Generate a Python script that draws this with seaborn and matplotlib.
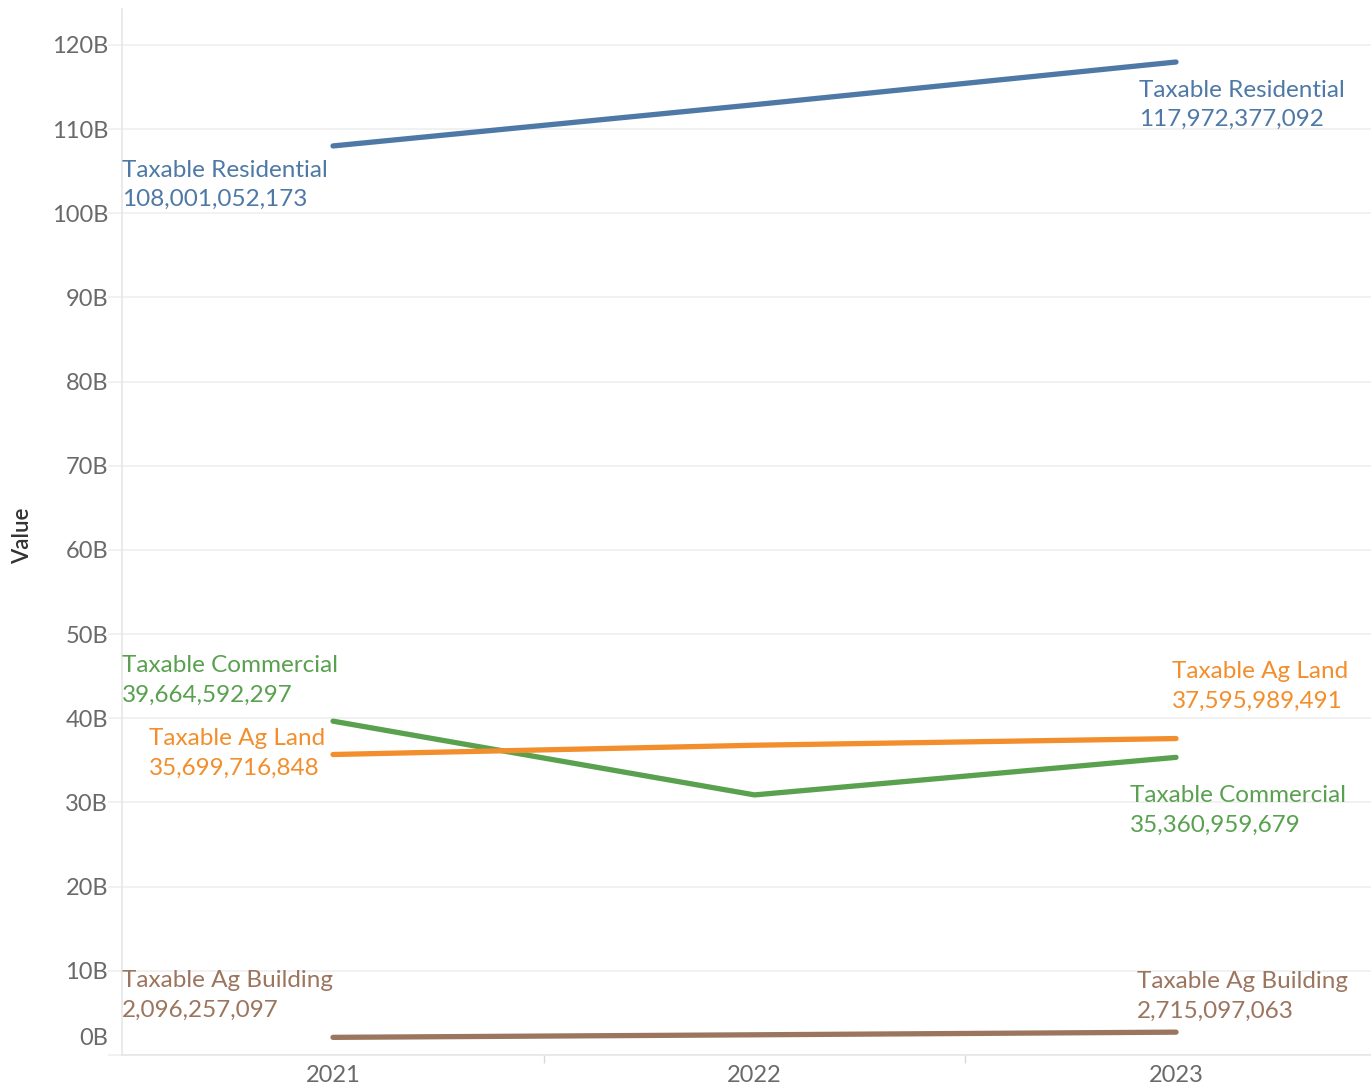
import matplotlib
matplotlib.use("Agg")
import matplotlib.pyplot as plt
import matplotlib.transforms as mtransforms
import seaborn as sns
import pandas as pd
from matplotlib.ticker import FuncFormatter, FixedLocator

years = ["2021", "2022", "2023"]
series = ["Taxable Residential", "Taxable Commercial", "Taxable Ag Land", "Taxable Ag Building"]
residential = [108001052173, 112900000000, 117972377092]
commercial = [39664592297, 30900000000, 35360959679]
ag_land = [35699716848, 36800000000, 37595989491]
ag_building = [2096257097, 2400000000, 2715097063]
y_ticks = [0, 10, 20, 30, 40, 50, 60, 70, 80, 90, 100, 110, 120]

colors = {"Taxable Residential": "#4e79a7", "Taxable Commercial": "#59a14f",
          "Taxable Ag Land": "#f28e2b", "Taxable Ag Building": "#9c755f"}

values = [residential, commercial, ag_land, ag_building]
rows = []
for s, vals in zip(series, values):
    for i, (yr, v) in enumerate(zip(years, vals)):
        rows.append({"Year": yr, "idx": i, "Series": s, "Value": v / 1e9})
df = pd.DataFrame(rows)

sns.set_theme(style="white")
plt.rcParams['font.family'] = ['Lato', 'DejaVu Sans']

fig = plt.figure(figsize=(13.71, 10.88), dpi=100)
ax = fig.add_axes([122/1371, 1 - 1055/1088, 1 - 122/1371, (1055 - 9)/1088])

sns.lineplot(data=df, x="idx", y="Value", hue="Series", palette=colors,
             linewidth=3.8, legend=False, ax=ax, solid_capstyle="round")

ax.set_xlim(-0.5006, 2.4626)
ax.set_ylim(0, 124.27)

ax.yaxis.set_major_locator(FixedLocator(y_ticks))
ax.yaxis.set_major_formatter(FuncFormatter(lambda v, p: f"{int(v)}B"))
ax.grid(axis="y", color="#efefef", linewidth=1.2)
ax.grid(axis="x", visible=False)
ax.set_axisbelow(True)

ax.set_xticks([0, 1, 2])
ax.set_xticklabels(years)
ax.set_xticks([0.5, 1.5], minor=True)
ax.tick_params(axis="x", which="major", length=0, labelsize=17, labelcolor="#6a6a6a", pad=7)
ax.tick_params(axis="x", which="minor", length=6, color="#d9d9d9", width=1, bottom=True)
ax.tick_params(axis="y", which="major", length=10, color="#efefef", width=1.2,
               labelsize=17, labelcolor="#6a6a6a", pad=0, left=True)

for side in ["top", "right"]:
    ax.spines[side].set_visible(False)
ax.spines["left"].set_color("#e6e6e6")
ax.spines["bottom"].set_color("#e6e6e6")
ax.spines["left"].set_linewidth(1.2)
ax.spines["bottom"].set_linewidth(1.2)

lbl0 = ax.get_yticklabels()[0]
lbl0.set_va("bottom")
lbl0.set_transform(lbl0.get_transform() + mtransforms.ScaledTranslation(0, 6/100, fig.dpi_scale_trans))

ax.set_xlabel("")
ax.set_ylabel("Value", fontsize=16, color="#333333", fontweight="semibold")
ax.yaxis.set_label_coords(-0.071, 0.496)

# label offsets (pixels): left edge of text block, vertical centre
start_off = {"Taxable Residential": (-211, -39), "Taxable Commercial": (-211, 41),
             "Taxable Ag Land": (-184, 1), "Taxable Ag Building": (-211, 42)}
end_off = {"Taxable Residential": (-37, -43), "Taxable Commercial": (-46, -53),
           "Taxable Ag Land": (-4, 52), "Taxable Ag Building": (-39, 36)}

for s, vals in zip(series, values):
    for i, off in ((0, start_off[s]), (2, end_off[s])):
        ax.annotate(f"{s}\n{vals[i]:,}", xy=(i, vals[i] / 1e9), xytext=off,
                    textcoords="offset pixels", ha="left", va="center",
                    multialignment="left",
                    fontsize=17.5, color=colors[s], linespacing=1.5)

fig.savefig("out.png", dpi=100)
